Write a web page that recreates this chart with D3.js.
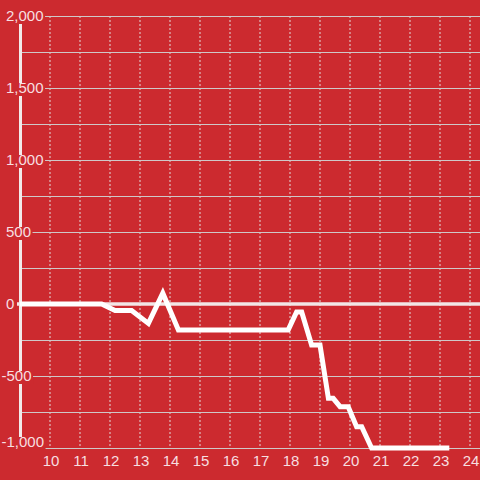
<!DOCTYPE html>
<html>
<head>
<meta charset="utf-8">
<script src="https://cdn.jsdelivr.net/npm/d3@7"></script>
<style>
  html, body { margin: 0; padding: 0; background: #cc2a2f; }
  svg { display: block; }
  text { font-family: "Liberation Sans", Arial, sans-serif; }
</style>
</head>
<body>
<svg width="480" height="480"></svg>
<script>
// values
const hours   = [9, 11.72, 12.17, 12.72, 13.28, 13.76, 14.28, 17.94, 18.22, 18.39, 18.72, 19.0, 19.28, 19.44, 19.67, 19.94, 20.22, 20.39, 20.72, 23.31];
const balance = [0, 0, -45, -45, -135, 75, -180, -180, -55, -55, -285, -285, -655, -655, -713, -713, -852, -852, -1000, -1000];
const xTicks = [10, 11, 12, 13, 14, 15, 16, 17, 18, 19, 20, 21, 22, 23, 24];
const yLabels = [2000, 1500, 1000, 500, 0, -500, -1000];
const yGrid = d3.range(-1000, 2001, 250);

const bg = "#cc2a2f";
let width = 480, height = 480;
let svg = d3.select("svg");

svg.append("rect").attr("width", width).attr("height", height).attr("fill", bg);

let x = d3.scaleLinear().domain([9, 24 + 1 / 3]).range([20, 480]);
let y = d3.scaleLinear().domain([-1000, 2000]).range([448, 16]);

// dashed vertical grid
svg.append("g").selectAll("line").data(xTicks).enter().append("line")
  .attr("x1", d => x(d)).attr("x2", d => x(d))
  .attr("y1", y(2000)).attr("y2", y(-1000))
  .attr("stroke", "#e2dada").attr("stroke-width", 1)
  .attr("stroke-dasharray", "2,2");

// horizontal grid
svg.append("g").selectAll("line").data(yGrid.filter(d => d !== 0)).enter().append("line")
  .attr("x1", 20).attr("x2", 480)
  .attr("y1", d => y(d) + 0.5).attr("y2", d => y(d) + 0.5)
  .attr("stroke", "#cfc8c8").attr("stroke-width", 1.2);

// zero line
svg.append("line")
  .attr("x1", 17).attr("x2", 480)
  .attr("y1", y(0)).attr("y2", y(0))
  .attr("stroke", "#f2e6e6").attr("stroke-width", 3.5);

// y axis line
svg.append("line")
  .attr("x1", 20.5).attr("x2", 20.5)
  .attr("y1", y(2000)).attr("y2", y(-1000))
  .attr("stroke", "#f2eaea").attr("stroke-width", 3);

// data line
let line = d3.line()
  .x(d => x(d[0]))
  .y(d => y(d[1]));
svg.append("path")
  .datum(hours.map((h, i) => [h, balance[i]]))
  .attr("d", line)
  .attr("fill", "none")
  .attr("stroke", "#ffffff")
  .attr("stroke-width", 5)
  .attr("stroke-linejoin", "miter");

// y labels with background boxes
let fmt = d3.format(",");
let yl = svg.append("g").selectAll("g").data(yLabels).enter().append("g")
  .attr("transform", d => "translate(" + (d < 0 ? 1.5 : 6) + "," + Math.min(y(d), 442) + ")");
yl.append("rect").attr("class", "lbg").attr("fill", bg);
yl.append("text")
  .attr("dy", "0.35em")
  .attr("font-size", 15)
  .attr("fill", "#f7dfe0")
  .text(d => fmt(d).replace("−", "-"));
yl.each(function() {
  let g = d3.select(this);
  let b = g.select("text").node().getBBox();
  g.select("rect")
    .attr("x", b.x - 1).attr("y", -5)
    .attr("width", b.width + 2.5).attr("height", 13);
});

// x labels
svg.append("g").selectAll("text").data(xTicks).enter().append("text")
  .attr("x", d => x(d) + 1)
  .attr("y", 466)
  .attr("text-anchor", "middle")
  .attr("font-size", 15)
  .attr("fill", "#f7dfe0")
  .text(d => d);
</script>
</body>
</html>
